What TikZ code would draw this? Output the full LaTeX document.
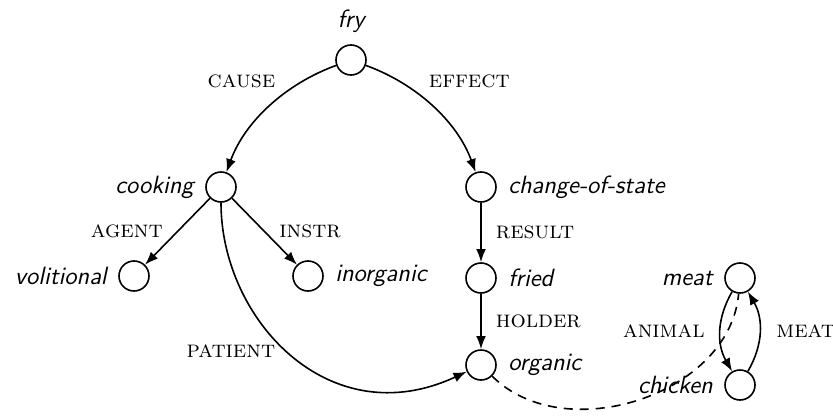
\documentclass[tikz,border=0pt]{standalone}
\usepackage{tikz}
\usetikzlibrary{positioning,arrows.meta}
\newcommand{\rel}[1]{\textsc{#1}}

\begin{document}
\begin{tikzpicture}[
  on grid, thick,
  st/.style={draw, circle, minimum size=15pt, inner sep=0pt},
  cpt/.style={font=\fontsize{12.5}{14}\sffamily\itshape, label distance=2pt},
  lbl/.style={font=\large, inner sep=2pt}]
  \useasboundingbox (-175.5pt,30pt) rectangle (241pt,-178.5pt);
  \node[st, label={[cpt]above:fry}] (fry) at (0,0) {};
  \node[st, label={[cpt]left:cooking}, below left=63.5pt and 65pt of fry] (cooking) {};
  \node[st, label={[cpt]right:change-of-state}, below right=63.5pt and 65pt of fry] (change) {};
  \node[st, label={[cpt]left:volitional}, below left=44.5pt and 43.5pt of cooking] (volitional) {};
  \node[st, label={[cpt]right:inorganic}, below right=44.5pt and 43.5pt of cooking] (inorganic) {};
  \node[st, label={[cpt]right:fried}, below=45.5pt of change] (fried) {};
  \node[st, label={[cpt]right:organic}, below=43.5pt of fried] (organic) {};
  \node[st, label={[cpt]left:meat}, right=129.5pt of fried] (meat) {};
  \node[st, label={[cpt]left:chicken}, below=53.5pt of meat] (chicken) {};
  \draw[-{Latex}] (fry) to[out=200, in=70, looseness=0.9] node[lbl, pos=0.36, above left, xshift=-3pt]{\rel{cause}} (cooking);
  \draw[-{Latex}] (fry) to[out=-20, in=110, looseness=0.9] node[lbl, pos=0.36, above right, xshift=4pt]{\rel{effect}} (change);
  \draw[-{Latex}] (cooking) -- node[lbl, left=5pt]{\rel{agent}} (volitional);
  \draw[-{Latex}] (cooking) -- node[lbl, right=5pt]{\rel{instr}} (inorganic);
  \draw[-{Latex}] (cooking) to[out=-90, in=205, out looseness=1, in looseness=1.3] node[lbl, pos=0.48, left=3.5pt]{\rel{patient}} (organic);
  \draw[-{Latex}] (change) -- node[lbl, right=5pt]{\rel{result}} (fried);
  \draw[-{Latex}] (fried) -- node[lbl, right=5pt]{\rel{holder}} (organic);
  \draw[-{Latex}] (meat) to[bend right=30] node[lbl, left=5.5pt]{\rel{animal}} (chicken);
  \draw[-{Latex}] (chicken) to[bend right=30] node[lbl, right=6pt]{\rel{meat}} (meat);
  \draw[dash pattern=on 4.5pt off 3.5pt] (organic) to[out=-45, in=-95] (meat);
\end{tikzpicture}
\end{document}
